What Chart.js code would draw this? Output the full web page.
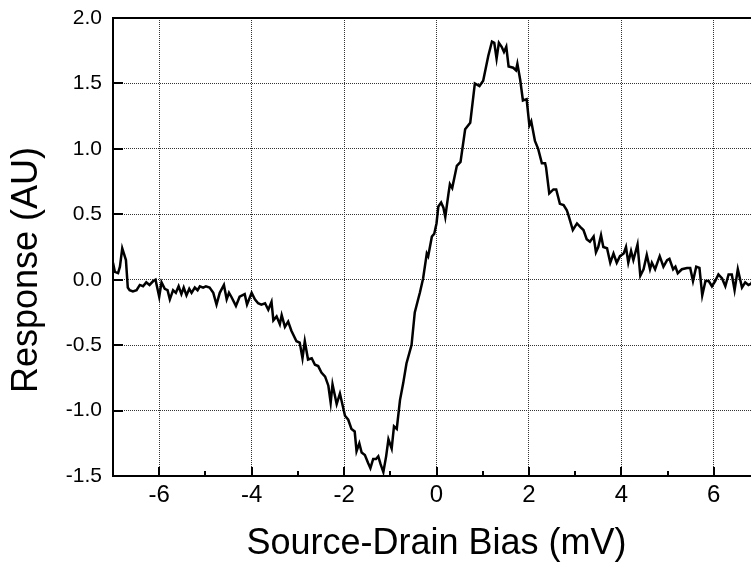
<!DOCTYPE html>
<html>
<head>
<meta charset="utf-8">
<script src="https://cdn.jsdelivr.net/npm/chart.js@4.4.1/dist/chart.umd.min.js"></script>
<style>
html, body { margin: 0; padding: 0; background: #fff; overflow: hidden; }
#wrap { width: 751px; height: 567px; overflow: hidden; }
canvas { display: block; }
</style>
</head>
<body>
<div id="wrap"><canvas id="myChart" width="780" height="567"></canvas></div>
<script>
// valores
const biasMv = [
  -7.00, -6.96, -6.89, -6.85, -6.80, -6.72, -6.68, -6.64, -6.57, -6.49,
  -6.42, -6.35, -6.28, -6.21, -6.13, -6.08, -6.00, -5.95, -5.88, -5.82,
  -5.77, -5.70, -5.64, -5.58, -5.52, -5.47, -5.41, -5.35, -5.30, -5.23,
  -5.17, -5.12, -5.05, -4.99, -4.91, -4.83, -4.76, -4.69, -4.60, -4.54,
  -4.49, -4.44, -4.34, -4.26, -4.15, -4.10, -4.00, -3.93, -3.86, -3.79,
  -3.71, -3.64, -3.57, -3.53, -3.46, -3.39, -3.35, -3.28, -3.21, -3.14,
  -3.03, -2.96, -2.90, -2.85, -2.78, -2.70, -2.63, -2.56, -2.49, -2.41,
  -2.34, -2.29, -2.25, -2.16, -2.09, -1.98, -1.91, -1.84, -1.77, -1.73,
  -1.67, -1.62, -1.55, -1.48, -1.43, -1.37, -1.31, -1.26, -1.21, -1.15,
  -1.09, -1.04, -0.97, -0.92, -0.86, -0.79, -0.72, -0.65, -0.54, -0.47,
  -0.39, -0.36, -0.29, -0.21, -0.18, -0.10, -0.05, 0.00, 0.04, 0.10,
  0.15, 0.19, 0.26, 0.29, 0.34, 0.44, 0.52, 0.62, 0.73, 0.83,
  0.93, 1.01, 1.12, 1.20, 1.25, 1.30, 1.35, 1.41, 1.46, 1.51,
  1.56, 1.66, 1.72, 1.75, 1.81, 1.87, 1.95, 2.01, 2.05, 2.13,
  2.20, 2.28, 2.35, 2.37, 2.44, 2.53, 2.59, 2.67, 2.75, 2.82,
  2.85, 2.95, 3.04, 3.12, 3.18, 3.25, 3.32, 3.40, 3.45, 3.50,
  3.56, 3.61, 3.69, 3.76, 3.83, 3.90, 3.97, 4.05, 4.10, 4.15,
  4.21, 4.26, 4.35, 4.41, 4.48, 4.55, 4.62, 4.66, 4.73, 4.83,
  4.91, 4.99, 5.04, 5.12, 5.17, 5.22, 5.31, 5.42, 5.49, 5.55,
  5.62, 5.69, 5.75, 5.82, 5.89, 5.96, 6.03, 6.10, 6.18, 6.25,
  6.32, 6.39, 6.45, 6.52, 6.61, 6.68, 6.75, 6.81, 6.88, 6.95
];
const response = [
  0.13, 0.06, 0.05, 0.10, 0.24, 0.15, -0.06, -0.08, -0.09, -0.08,
  -0.04, -0.05, -0.02, -0.04, -0.01, 0.00, -0.13, -0.02, -0.07, -0.08,
  -0.15, -0.08, -0.10, -0.05, -0.11, -0.06, -0.12, -0.07, -0.10, -0.06,
  -0.08, -0.05, -0.06, -0.05, -0.06, -0.10, -0.19, -0.10, -0.04, -0.15,
  -0.10, -0.13, -0.20, -0.13, -0.11, -0.19, -0.10, -0.15, -0.18, -0.19,
  -0.18, -0.23, -0.17, -0.31, -0.28, -0.34, -0.27, -0.36, -0.32, -0.39,
  -0.47, -0.48, -0.60, -0.47, -0.61, -0.60, -0.65, -0.66, -0.71, -0.74,
  -0.81, -0.94, -0.80, -0.95, -0.87, -1.04, -1.07, -1.14, -1.16, -1.31,
  -1.25, -1.32, -1.34, -1.40, -1.44, -1.37, -1.37, -1.35, -1.41, -1.47,
  -1.35, -1.22, -1.29, -1.12, -1.14, -0.92, -0.79, -0.64, -0.50, -0.25,
  -0.14, -0.10, 0.01, 0.20, 0.18, 0.33, 0.35, 0.43, 0.56, 0.59,
  0.55, 0.48, 0.66, 0.73, 0.70, 0.87, 0.90, 1.15, 1.20, 1.50,
  1.48, 1.52, 1.71, 1.82, 1.81, 1.69, 1.81, 1.78, 1.74, 1.78,
  1.63, 1.62, 1.60, 1.65, 1.53, 1.37, 1.38, 1.18, 1.21, 1.06,
  1.00, 0.89, 0.89, 0.86, 0.66, 0.69, 0.69, 0.58, 0.57, 0.53,
  0.50, 0.38, 0.43, 0.40, 0.38, 0.31, 0.29, 0.33, 0.21, 0.25,
  0.34, 0.25, 0.24, 0.13, 0.20, 0.13, 0.18, 0.20, 0.25, 0.13,
  0.22, 0.15, 0.27, 0.03, 0.08, 0.19, 0.08, 0.13, 0.08, 0.18,
  0.10, 0.15, 0.16, 0.08, 0.10, 0.05, 0.08, 0.09, 0.09, -0.01,
  0.10, 0.09, -0.12, -0.01, -0.01, -0.05, -0.01, 0.04, 0.01, -0.05,
  0.04, 0.04, -0.08, 0.08, -0.06, -0.02, -0.04, -0.03, 0.02, -0.03
];
const xTickLabels = [-6, -4, -2, 0, 2, 4, 6];
const xMinorTicks = [-5, -3, -1, 1, 3, 5];
const yTickLabels = [-1.5, -1.0, -0.5, 0.0, 0.5, 1.0, 1.5, 2.0];
const xTitle = 'Source-Drain Bias (mV)';
const yTitle = 'Response (AU)';

const FONT = "'Liberation Sans', Arial, sans-serif";

// marco superior, ticks hacia adentro y titulo del eje Y
const frameAndTicks = {
  id: 'frameAndTicks',
  afterDraw(chart) {
    const ctx = chart.ctx;
    const area = chart.chartArea;
    const xs = chart.scales.x;
    const ys = chart.scales.y;
    const seg = (x1, y1, x2, y2) => {
      ctx.beginPath();
      ctx.moveTo(x1, y1);
      ctx.lineTo(x2, y2);
      ctx.stroke();
    };
    ctx.save();
    ctx.strokeStyle = '#000';
    ctx.lineWidth = 2;
    seg(area.left - 1, area.top, area.right + 1, area.top);
    seg(area.right, area.top, area.right, area.bottom);
    xTickLabels.forEach(v => {
      const px = Math.round(xs.getPixelForValue(v));
      seg(px, area.bottom, px, area.bottom - 9);
    });
    xMinorTicks.forEach(v => {
      const px = Math.round(xs.getPixelForValue(v));
      seg(px, area.bottom, px, area.bottom - 5);
    });
    yTickLabels.forEach(v => {
      const py = Math.round(ys.getPixelForValue(v));
      seg(area.left, py, area.left + 10, py);
    });
    ctx.translate(27, (area.top + area.bottom) / 2 + 23);
    ctx.rotate(-Math.PI / 2);
    ctx.fillStyle = '#000';
    ctx.font = '36px ' + FONT;
    ctx.textAlign = 'center';
    ctx.textBaseline = 'middle';
    ctx.fillText(yTitle, 0, 0);
    ctx.restore();
  }
};

const ctx = document.getElementById('myChart').getContext('2d');
const myChart = new Chart(ctx, {
  type: 'line',
  data: {
    datasets: [{
      data: biasMv.map((x, i) => ({ x: x, y: response[i] })),
      borderColor: '#000',
      borderWidth: 2.5,
      pointRadius: 0,
      tension: 0,
      fill: false
    }]
  },
  options: {
    responsive: false,
    devicePixelRatio: 1,
    animation: false,
    layout: { padding: { top: 18, right: 20, left: 0, bottom: 0 } },
    plugins: {
      legend: { display: false },
      tooltip: { enabled: false }
    },
    scales: {
      x: {
        type: 'linear',
        min: -7,
        max: 7,
        afterBuildTicks: scale => {
          scale.ticks = xTickLabels.map(v => ({ value: v }));
        },
        afterFit: scale => { scale.height = 91; },
        grid: { color: '#333', lineWidth: 1, drawTicks: false },
        border: { display: true, color: '#000', width: 2, dash: [1, 1] },
        ticks: {
          padding: 5,
          color: '#000',
          font: { family: FONT, size: 24 },
          maxRotation: 0,
          callback: v => String(v)
        },
        title: {
          display: true,
          text: xTitle,
          color: '#000',
          font: { family: FONT, size: 36 },
          padding: { top: 0, bottom: 1 }
        }
      },
      y: {
        min: -1.5,
        max: 2,
        afterBuildTicks: scale => {
          scale.ticks = yTickLabels.map(v => ({ value: v }));
        },
        afterFit: scale => { scale.width = 113; },
        grid: { color: '#333', lineWidth: 1, drawTicks: false },
        border: { display: true, color: '#000', width: 2, dash: [1, 1] },
        ticks: {
          padding: 11,
          color: '#000',
          font: { family: FONT, size: 21, lineHeight: 0.5 },
          callback: v => v.toFixed(1)
        },
        title: { display: false }
      }
    }
  },
  plugins: [frameAndTicks]
});
</script>
</body>
</html>
